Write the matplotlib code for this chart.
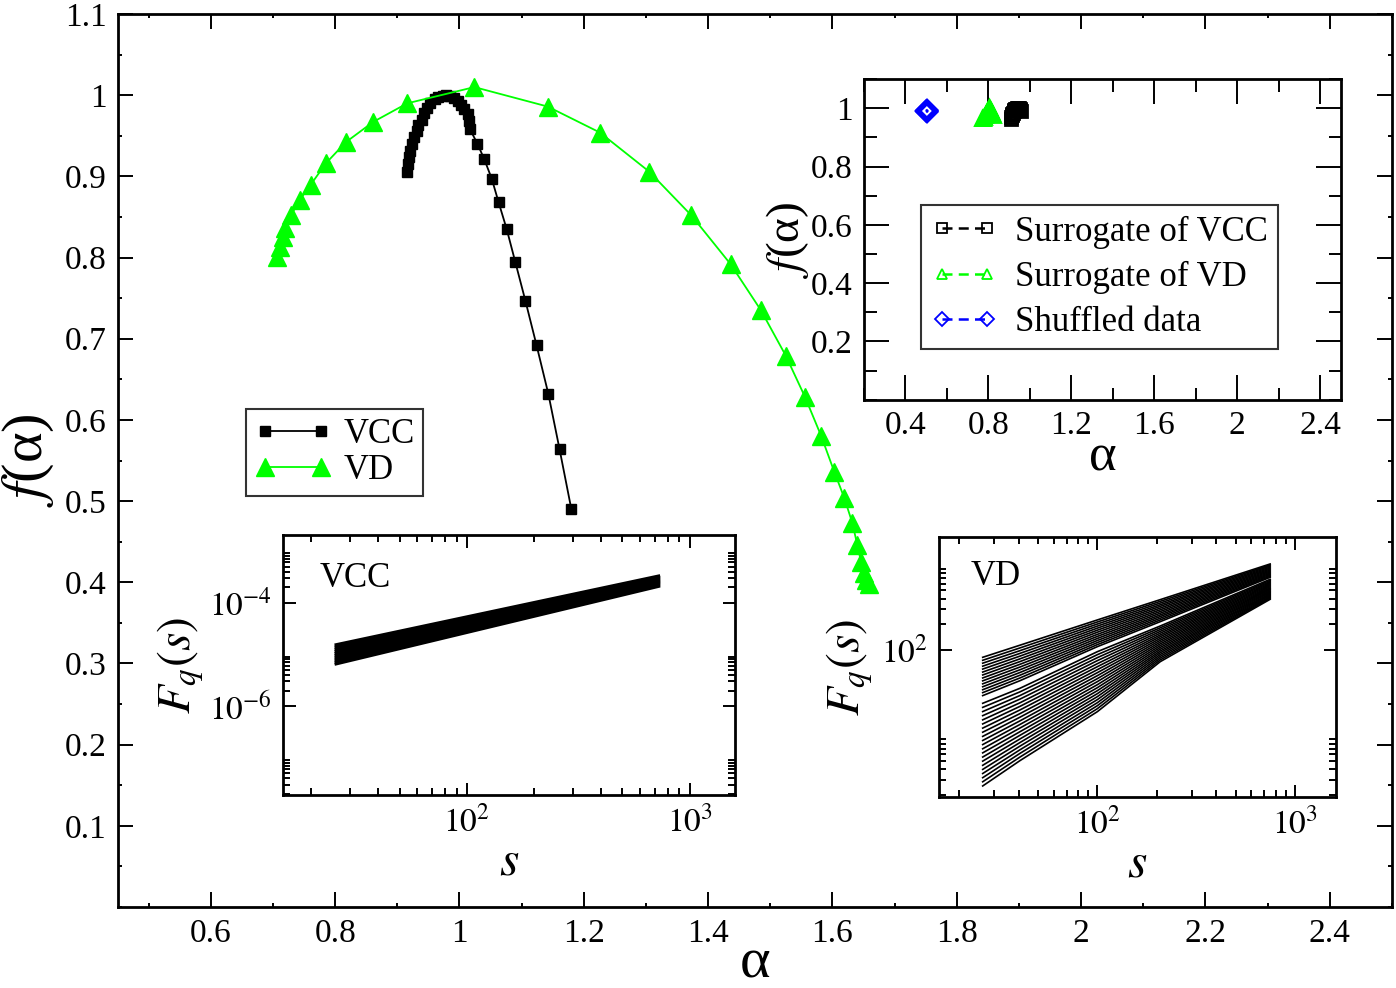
import numpy as np
import matplotlib
matplotlib.use('Agg')
import matplotlib.pyplot as plt
from matplotlib.ticker import MultipleLocator, FixedLocator, FixedFormatter, FormatStrFormatter, NullFormatter

plt.rcParams['font.family'] = ['Liberation Serif', 'DejaVu Serif']
plt.rcParams['mathtext.fontset'] = 'stix'

GREEN = '#00ff00'
BLUE = '#0000ff'

# main panel: multifractal spectra f(alpha)
vcc_alpha = [1.180, 1.161, 1.143, 1.124, 1.106, 1.090, 1.076, 1.063, 1.052, 1.040, 1.029, 1.017,
             1.015, 1.013, 1.008, 1.003, 0.998, 0.992, 0.985, 0.979, 0.973, 0.966, 0.960, 0.953,
             0.948, 0.943, 0.939, 0.934, 0.931, 0.927, 0.924, 0.921, 0.919, 0.918, 0.916]
vcc_f = [0.490, 0.564, 0.632, 0.692, 0.747, 0.794, 0.835, 0.868, 0.897, 0.921, 0.940, 0.958,
         0.968, 0.977, 0.983, 0.988, 0.993, 0.996, 0.999, 1.000, 0.999, 0.998, 0.995, 0.990,
         0.984, 0.978, 0.970, 0.963, 0.956, 0.948, 0.940, 0.931, 0.924, 0.915, 0.906]

vd_alpha = [0.706, 0.711, 0.716, 0.720, 0.729, 0.743, 0.761, 0.785, 0.817, 0.861, 0.916, 1.024,
            1.142, 1.226, 1.305, 1.373, 1.436, 1.485, 1.525, 1.556, 1.582, 1.603, 1.619, 1.632,
            1.640, 1.646, 1.651, 1.654, 1.658]
vd_f = [0.801, 0.813, 0.825, 0.837, 0.852, 0.871, 0.890, 0.916, 0.942, 0.967, 0.990, 1.010,
        0.986, 0.954, 0.906, 0.852, 0.792, 0.735, 0.679, 0.628, 0.580, 0.536, 0.504, 0.473,
        0.446, 0.425, 0.412, 0.403, 0.398]

# top-right inset: surrogates and shuffled
sur_vcc_alpha = [0.908, 0.910, 0.912, 0.915, 0.918, 0.921, 0.925, 0.929, 0.933, 0.937, 0.942,
                 0.946, 0.950, 0.953, 0.955]
sur_vcc_f = [0.962, 0.969, 0.975, 0.980, 0.985, 0.989, 0.993, 0.996, 0.998, 0.999, 1.000,
             0.999, 0.998, 0.994, 0.990]
sur_vd_alpha = [0.770, 0.773, 0.776, 0.780, 0.783, 0.787, 0.790, 0.794, 0.797, 0.801, 0.804,
                0.808, 0.812, 0.816, 0.820]
sur_vd_f = [0.966, 0.967, 0.968, 0.971, 0.975, 0.980, 0.985, 0.990, 0.995, 1.000, 1.005,
            0.998, 0.990, 0.984, 0.978]
shuf_alpha = [0.500, 0.503, 0.506, 0.504, 0.502]
shuf_f = [0.990, 0.993, 0.991, 0.988, 0.992]

# lower-left inset: VCC fluctuation functions (log10 F at both ends)
vcc_s = [25.5, 738]
vcc_logF = [[-4.819, -3.477], [-4.860, -3.499], [-4.902, -3.521], [-4.943, -3.544],
            [-4.985, -3.566], [-5.026, -3.588], [-5.068, -3.610], [-5.109, -3.632],
            [-5.151, -3.655], [-5.192, -3.677]]

# lower-right inset: VD fluctuation functions (log10 F)
vd_s = [26.3, 40.6, 100, 208, 748]
vd_logF = [
    [1.914, 2.056, 2.352, 2.590, 3.008], [1.879, 2.024, 2.328, 2.570, 2.996],
    [1.845, 1.992, 2.304, 2.550, 2.984], [1.810, 1.960, 2.280, 2.530, 2.972],
    [1.776, 1.928, 2.256, 2.511, 2.960], [1.741, 1.896, 2.232, 2.491, 2.948],
    [1.707, 1.864, 2.208, 2.471, 2.936], [1.672, 1.832, 2.183, 2.451, 2.924],
    [1.638, 1.800, 2.159, 2.431, 2.912], [1.603, 1.768, 2.135, 2.411, 2.900],
    [1.569, 1.736, 2.111, 2.392, 2.888], [1.534, 1.704, 2.087, 2.372, 2.876],
    [1.500, 1.672, 2.063, 2.352, 2.864], [1.465, 1.640, 2.039, 2.332, 2.852],
    [1.375, 1.551, 1.980, 2.281, 2.828], [1.327, 1.509, 1.945, 2.260, 2.815],
    [1.278, 1.466, 1.910, 2.239, 2.802], [1.230, 1.424, 1.875, 2.218, 2.790],
    [1.181, 1.381, 1.839, 2.197, 2.778], [1.133, 1.339, 1.804, 2.176, 2.766],
    [1.084, 1.297, 1.769, 2.156, 2.754], [1.036, 1.254, 1.734, 2.135, 2.742],
    [0.987, 1.212, 1.699, 2.114, 2.730], [0.939, 1.169, 1.664, 2.093, 2.719],
    [0.891, 1.127, 1.629, 2.072, 2.708], [0.842, 1.085, 1.593, 2.051, 2.696],
    [0.794, 1.042, 1.558, 2.030, 2.685], [0.745, 1.000, 1.523, 2.009, 2.674],
    [0.697, 0.957, 1.488, 1.988, 2.662], [0.648, 0.915, 1.453, 1.968, 2.651],
    [0.600, 0.873, 1.418, 1.947, 2.640], [0.552, 0.830, 1.382, 1.926, 2.628],
    [0.503, 0.788, 1.347, 1.905, 2.617], [0.455, 0.745, 1.312, 1.884, 2.606],
    [0.406, 0.703, 1.277, 1.863, 2.594]]


def style_axes(a, major_len, minor_len, spine_w=1.8):
    for sp in a.spines.values():
        sp.set_linewidth(spine_w)
    a.tick_params(which='both', direction='in', top=True, right=True, width=1.4, labelsize=24)
    a.tick_params(which='major', length=major_len, pad=8)
    a.tick_params(which='minor', length=minor_len)


def log_ticks(a, axis, majors, minor_decades, labels):
    minors = [k * 10.0 ** e for e in minor_decades for k in range(2, 10)]
    target = a.xaxis if axis == 'x' else a.yaxis
    target.set_major_locator(FixedLocator(majors))
    target.set_major_formatter(FixedFormatter(labels))
    target.set_minor_locator(FixedLocator(minors))
    target.set_minor_formatter(NullFormatter())


fig = plt.figure(figsize=(13.96, 9.88), dpi=100)

ax = fig.add_axes([0.0842, 0.0820, 0.9129, 0.9038])
ax.plot(vcc_alpha, vcc_f, '-s', color='k', lw=1.3, ms=7.5, label='VCC')
ax.plot(vd_alpha, vd_f, '-^', color=GREEN, mec=GREEN, lw=1.3, ms=13, label='VD')
ax.set_xlim(0.45, 2.5)
ax.set_ylim(0, 1.1)
ax.xaxis.set_major_locator(FixedLocator([0.6, 0.8, 1.0, 1.2, 1.4, 1.6, 1.8, 2.0, 2.2, 2.4]))
ax.xaxis.set_minor_locator(MultipleLocator(0.1))
ax.yaxis.set_major_locator(FixedLocator([0.1, 0.2, 0.3, 0.4, 0.5, 0.6, 0.7, 0.8, 0.9, 1.0, 1.1]))
ax.yaxis.set_minor_locator(MultipleLocator(0.05))
ax.xaxis.set_major_formatter(FormatStrFormatter('%g'))
ax.yaxis.set_major_formatter(FormatStrFormatter('%g'))
style_axes(ax, 11, 3, 2.0)
ax.set_xlabel('α', fontsize=42, labelpad=-8)
ax.set_ylabel('$f$(α)', fontsize=42, labelpad=6)
leg = ax.legend(loc='upper left', bbox_to_anchor=(0.1008, 0.5577), numpoints=2, handlelength=2.2,
                fontsize=25, frameon=True, fancybox=False, edgecolor='k', borderaxespad=0,
                borderpad=0.25, labelspacing=0.1, handletextpad=0.35)
leg.get_frame().set_linewidth(1.5)

# top-right inset
ins = fig.add_axes([0.6189, 0.5954, 0.3417, 0.3246])
dash = (0, (4, 2.5))
ins.plot(sur_vcc_alpha, sur_vcc_f, marker='s', ls=dash, color='k', mfc='none', mew=2, ms=8, lw=1.8,
         label='Surrogate of VCC')
ins.plot(sur_vd_alpha, sur_vd_f, marker='^', ls=dash, color=GREEN, mfc='none', mew=2, ms=10, lw=1.8,
         label='Surrogate of VD')
ins.plot(shuf_alpha, shuf_f, marker='D', ls=dash, color=BLUE, mfc='none', mew=3, ms=9, lw=1.8,
         label='Shuffled data')
ins.set_xlim(0.2, 2.5)
ins.set_ylim(0, 1.1)
ins.xaxis.set_major_locator(FixedLocator([0.4, 0.8, 1.2, 1.6, 2.0, 2.4]))
ins.xaxis.set_minor_locator(MultipleLocator(0.2))
ins.yaxis.set_major_locator(FixedLocator([0.2, 0.4, 0.6, 0.8, 1.0]))
ins.yaxis.set_minor_locator(MultipleLocator(0.1))
ins.xaxis.set_major_formatter(FormatStrFormatter('%g'))
ins.yaxis.set_major_formatter(FormatStrFormatter('%g'))
style_axes(ins, 18, 9, 2.0)
ins.set_xlabel('α', fontsize=38, labelpad=-6)
ins.set_ylabel('$f$(α)', fontsize=34, labelpad=0)
leg2 = ins.legend(loc='upper left', bbox_to_anchor=(0.1195, 0.607), numpoints=2, handlelength=1.9,
                  fontsize=25, frameon=True, fancybox=False, edgecolor='k', borderaxespad=0,
                  borderpad=0.3, labelspacing=0.35, handletextpad=0.5)
leg2.get_frame().set_linewidth(1.5)
for h in leg2.legend_handles:
    h.set_markersize(7)
    h.set_markeredgewidth(1.3)

# lower-left inset: VCC
ia = fig.add_axes([0.2029, 0.1953, 0.3236, 0.2632])
for row in vcc_logF:
    ia.plot(vcc_s, [10 ** v for v in row], color='k', lw=2.2, solid_capstyle='butt')
ia.set_xscale('log')
ia.set_yscale('log')
ia.set_xlim(15, 1600)
ia.set_ylim(1.9e-8, 2.04e-3)
log_ticks(ia, 'x', [100, 1000], [1, 2], ['$10^{2}$', '$10^{3}$'])
log_ticks(ia, 'y', [1e-6, 1e-4], [-8, -6, -4], ['$10^{-6}$', '$10^{-4}$'])
style_axes(ia, 9, 5, 2.0)
ia.set_xlabel('$s$', fontsize=36, labelpad=0)
ia.set_ylabel('$F_q(s)$', fontsize=34, labelpad=2)
ia.text(0.08, 0.8, 'VCC', transform=ia.transAxes, fontsize=25)

# lower-right inset: VD
ib = fig.add_axes([0.6726, 0.1933, 0.2844, 0.2632])
for row in vd_logF:
    ib.plot(vd_s, [10 ** v for v in row], color='k', lw=1.2)
ib.set_xscale('log')
ib.set_yscale('log')
ib.set_xlim(15.8, 1610)
ib.set_ylim(1.89, 2110)
log_ticks(ib, 'x', [100, 1000], [1, 2], ['$10^{2}$', '$10^{3}$'])
log_ticks(ib, 'y', [100], [0, 2], ['$10^{2}$'])
style_axes(ib, 9, 5, 2.0)
ib.set_xlabel('$s$', fontsize=36, labelpad=0)
ib.set_ylabel('$F_q(s)$', fontsize=34, labelpad=4)
ib.text(0.08, 0.815, 'VD', transform=ib.transAxes, fontsize=25)

fig.savefig('out.png', dpi=100)
